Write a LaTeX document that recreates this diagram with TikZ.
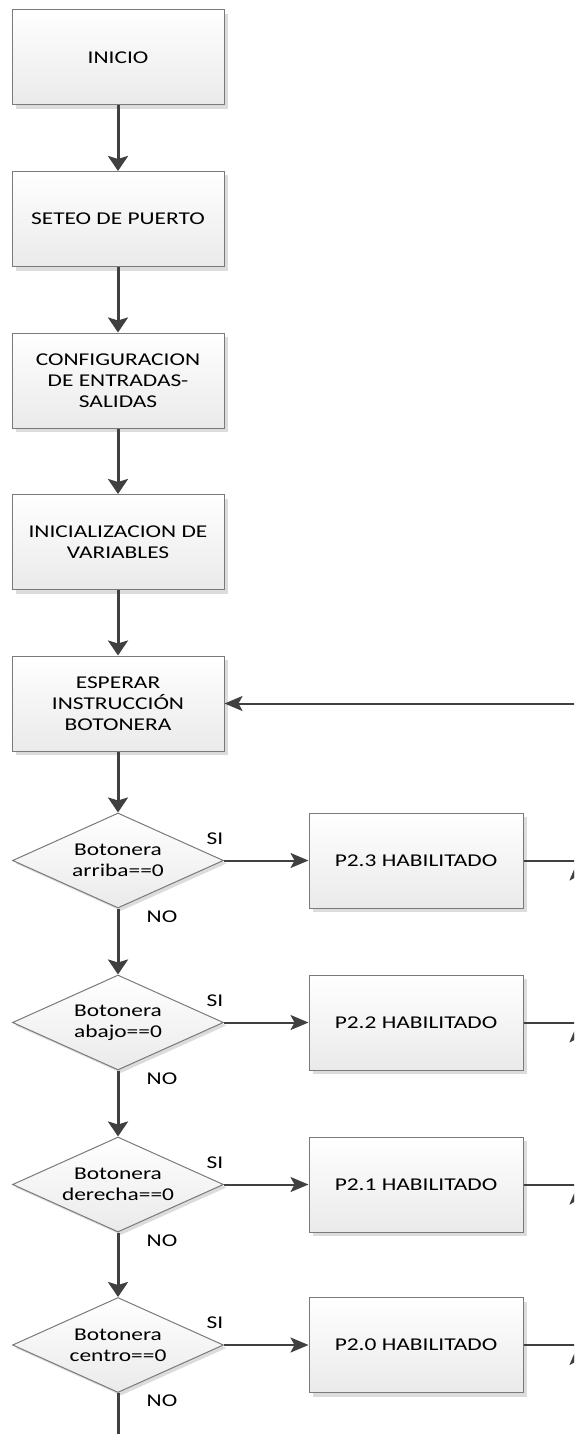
\documentclass[tikz,border=0pt]{standalone}
\usepackage{fontspec}
\setmainfont{Carlito}[FakeStretch=1.3]
\usetikzlibrary{shapes.geometric,arrows.meta,shadows}
\definecolor{lncol}{HTML}{404040}
\definecolor{bdcol}{HTML}{7A7A7A}
\definecolor{shcol}{HTML}{DCDCDC}
\definecolor{botcol}{HTML}{EAEAEA}
\begin{document}
\begin{tikzpicture}[x=1pt,y=-1pt,
  every node/.style={font=\fontsize{18}{21}\selectfont, text=black},
  procbox/.style={draw=bdcol, line width=1pt, top color=white, bottom color=botcol,
    minimum width=212pt, minimum height=95pt, inner sep=0pt, align=center,
    drop shadow={shadow xshift=4pt,shadow yshift=-4pt,fill=shcol,opacity=1}},
  decbox/.style={diamond, draw=bdcol, line width=1pt, top color=white, bottom color=botcol,
    aspect=2.22, minimum width=211pt, minimum height=95pt, inner sep=0pt, align=center,
    drop shadow={shadow xshift=3pt,shadow yshift=-3pt,fill=shcol,opacity=1}},
  mainflow/.style={draw=lncol, line width=3pt, -{Stealth[length=15pt,width=20pt,inset=3pt]}},
  sideflow/.style={draw=lncol, line width=2pt, -{Stealth[length=18pt,width=15pt,inset=4pt]}},
  plainline/.style={draw=lncol, line width=2pt},
  lbl/.style={inner sep=0pt}
]
\useasboundingbox (0,0) rectangle (574,1434);
\clip (0,0) rectangle (574,1434);

% main column
\node[procbox] (b1) at (118,57.5) {INICIO};
\node[procbox] (b2) at (118,219) {SETEO DE PUERTO};
\node[procbox] (b3) at (118,380.5) {CONFIGURACION\\DE ENTRADAS-\\SALIDAS};
\node[procbox] (b4) at (118,542) {INICIALIZACION DE\\VARIABLES};
\node[procbox] (b5) at (118,703.5) {ESPERAR\\INSTRUCCIÓN\\BOTONERA};

\node[decbox] (d1) at (118,860.5) {Botonera\\arriba==0};
\node[decbox] (d2) at (118,1022.5) {Botonera\\abajo==0};
\node[decbox] (d3) at (118,1184.5) {Botonera\\derecha==0};
\node[decbox] (d4) at (118,1345) {Botonera\\centro==0};

\node[procbox, minimum width=214pt] (p1) at (416,860.5) {P2.3 HABILITADO};
\node[procbox, minimum width=214pt] (p2) at (416,1022.5) {P2.2 HABILITADO};
\node[procbox, minimum width=214pt] (p3) at (416,1184.5) {P2.1 HABILITADO};
\node[procbox, minimum width=214pt] (p4) at (416,1345) {P2.0 HABILITADO};

% labels
\foreach \d in {d1,d2,d3,d4}{
  \node[lbl] at ([xshift=97pt,yshift=22pt]\d.center) {SI};
  \node[lbl] at ([xshift=44pt,yshift=-56pt]\d.center) {NO};
}

% main flow arrows
\draw[mainflow] (b1.south) -- (b2.north);
\draw[mainflow] (b2.south) -- (b3.north);
\draw[mainflow] (b3.south) -- (b4.north);
\draw[mainflow] (b4.south) -- (b5.north);
\draw[mainflow] (b5.south) -- (d1.north);
\draw[mainflow] (d1.south) -- (d2.north);
\draw[mainflow] (d2.south) -- (d3.north);
\draw[mainflow] (d3.south) -- (d4.north);
\coordinate (endbot) at (118,1440);
\draw[draw=lncol, line width=3pt] (d4.south) -- (endbot);

% SI branches
\draw[sideflow] (d1.east) -- (p1.west);
\draw[sideflow] (d2.east) -- (p2.west);
\draw[sideflow] (d3.east) -- (p3.west);
\draw[sideflow] (d4.east) -- (p4.west);

% return collector on the right
\coordinate (c0) at (577,703.5);
\coordinate (c1) at (577,860.5);
\coordinate (c2) at (577,1022.5);
\coordinate (c3) at (577,1184.5);
\coordinate (c4) at (577,1345);
\coordinate (c5) at (577,1440);
\draw[plainline] (p1.east) -- (c1);
\draw[plainline] (p2.east) -- (c2);
\draw[plainline] (p3.east) -- (c3);
\draw[plainline] (p4.east) -- (c4);
\draw[sideflow, shorten >=2pt] (c2) -- (c1);
\draw[sideflow, shorten >=2pt] (c3) -- (c2);
\draw[sideflow, shorten >=2pt] (c4) -- (c3);
\draw[sideflow, shorten >=2pt] (c5) -- (c4);
\draw[plainline] (c1) -- (c0);
\draw[sideflow] (c0) -- (b5.east);
\end{tikzpicture}
\end{document}
